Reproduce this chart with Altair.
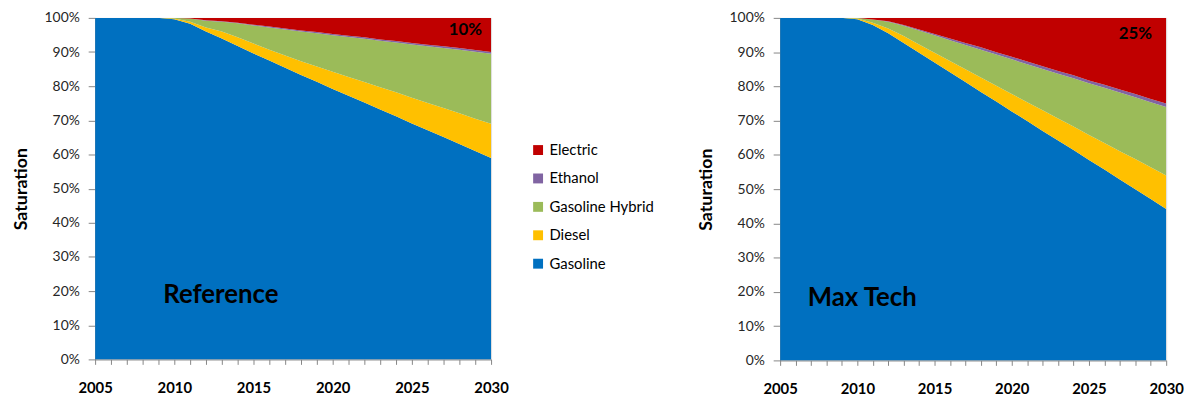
import altair as alt
import pandas as pd

years = list(range(2005, 2031))

fuels = ["Gasoline", "Diesel", "Gasoline Hybrid", "Ethanol", "Electric"]
legend_order = ["Electric", "Ethanol", "Gasoline Hybrid", "Diesel", "Gasoline"]
legend_colors = ["#C00000", "#8064A2", "#9BBB59", "#FFC000", "#0070C0"]

# Reference scenario (percent of stock)
ref_gasoline = [100, 100, 100, 100, 100, 99.6, 98.3, 96.0, 94.0, 91.8, 89.6, 87.5, 85.4,
                83.3, 81.3, 79.2, 77.2, 75.2, 73.2, 71.2, 69.1, 67.1, 65.1, 63.1, 61.0, 59.0]
ref_diesel = [0, 0, 0, 0, 0, 0.2, 0.6, 1.2, 2.0, 2.5, 2.9, 3.2, 3.6,
              4.0, 4.5, 5.0, 5.5, 6.0, 6.5, 7.0, 7.5, 8.0, 8.5, 9.0, 9.5, 10.0]
ref_hybrid = [0, 0, 0, 0, 0, 0.2, 0.9, 2.0, 2.9, 4.1, 5.3, 6.5, 7.6,
              8.7, 9.7, 10.7, 11.7, 12.7, 13.6, 14.6, 15.6, 16.6, 17.6, 18.6, 19.6, 20.5]
ref_ethanol = [0, 0, 0, 0, 0, 0, 0.05, 0.1, 0.15, 0.2, 0.2, 0.25, 0.3,
               0.3, 0.35, 0.35, 0.4, 0.4, 0.4, 0.45, 0.45, 0.45, 0.5, 0.5, 0.5, 0.5]
ref_electric = [0, 0, 0, 0, 0, 0, 0.15, 0.7, 0.95, 1.4, 2.0, 2.55, 3.1,
                3.7, 4.15, 4.75, 5.2, 5.7, 6.3, 6.75, 7.35, 7.85, 8.3, 8.8, 9.4, 10.0]

# Max Tech scenario (percent of stock)
max_gasoline = [100, 100, 100, 100, 100, 99.6, 97.9, 95.5, 92.7, 89.8, 87.0, 84.1, 81.3,
                78.4, 75.6, 72.7, 69.9, 67.0, 64.2, 61.4, 58.5, 55.7, 52.8, 50.0, 47.1, 44.2]
max_diesel = [0, 0, 0, 0, 0, 0.2, 0.7, 1.4, 2.0, 2.4, 2.8, 3.3, 3.7,
              4.2, 4.6, 5.1, 5.5, 6.0, 6.4, 6.9, 7.3, 7.8, 8.3, 8.8, 9.3, 9.8]
max_hybrid = [0, 0, 0, 0, 0, 0.2, 0.9, 2.0, 3.0, 4.1, 5.1, 6.1, 7.1,
              8.1, 9.1, 10.1, 11.1, 12.1, 13.1, 14.1, 15.1, 16.1, 17.1, 18.0, 19.0, 20.0]
max_ethanol = [0, 0, 0, 0, 0, 0, 0.05, 0.1, 0.2, 0.3, 0.4, 0.5, 0.6,
               0.7, 0.7, 0.75, 0.75, 0.8, 0.8, 0.85, 0.85, 0.9, 0.9, 0.95, 0.95, 1.0]
max_electric = [0, 0, 0, 0, 0, 0, 0.45, 1.0, 2.1, 3.4, 4.7, 6.0, 7.3,
                8.6, 10.0, 11.35, 12.75, 14.1, 15.5, 16.75, 18.25, 19.5, 20.9, 22.25, 23.65, 25.0]

x_label_years = [2005, 2010, 2015, 2020, 2025, 2030]
y_ticks = [0, 0.1, 0.2, 0.3, 0.4, 0.5, 0.6, 0.7, 0.8, 0.9, 1.0]

panel_names = ["Reference", "Max Tech"]
electric_2030_labels = ["10%", "25%"]

FONT = "Lato"


def long_frame(series):
    rows = []
    for rank, (fuel, vals) in enumerate(zip(fuels, series)):
        for yr, v in zip(years, vals):
            rows.append({"year": yr, "fuel": fuel, "share": v / 100.0, "rank": rank})
    return pd.DataFrame(rows)


label_expr = "indexof([" + ",".join(str(v) for v in x_label_years) + "], datum.value) >= 0 ? datum.value : ''"


def panel(series, name, pct, name_px, pct_px, width, height, show_legend):
    df = long_frame(series)
    if show_legend:
        legend = alt.Legend(
            title=None, orient="none", legendX=width + 40, legendY=126,
            symbolType="square", symbolSize=100, symbolStrokeWidth=0,
            labelFont=FONT, labelFontSize=15, labelColor="#000000",
            rowPadding=12.7, labelOffset=4,
        )
    else:
        legend = None
    area = alt.Chart(df).mark_area(clip=True, interpolate="linear").encode(
        x=alt.X(
            "year:Q",
            scale=alt.Scale(domain=[2005, 2030], nice=False, zero=False),
            axis=alt.Axis(
                values=years, labelExpr=label_expr, title=None, grid=False,
                labelFont=FONT, labelFontSize=15, labelFontWeight="bold", labelColor="#000000",
                labelPadding=16, tickSize=5, tickColor="#868686", domainColor="#868686",
                labelOverlap=False, labelFlush=False,
            ),
        ),
        y=alt.Y(
            "share:Q", stack="zero",
            scale=alt.Scale(domain=[0, 1], nice=False),
            axis=alt.Axis(
                values=y_ticks, format=".0%", title="Saturation", grid=False,
                labelFont=FONT, labelFontSize=14, labelColor="#262626",
                labelPadding=9, tickSize=7, tickColor="#868686", domainColor="#868686",
                titleFont=FONT, titleFontSize=18, titleFontWeight="bold", titleColor="#000000",
                titlePadding=13.5, labelOverlap=False,
            ),
        ),
        color=alt.Color("fuel:N", scale=alt.Scale(domain=legend_order, range=legend_colors), legend=legend),
        order=alt.Order("rank:Q", sort="ascending"),
    )
    name_text = alt.Chart(pd.DataFrame({"t": [name]})).mark_text(
        font=FONT, fontSize=26, fontWeight="bold", color="#000000", align="center", baseline="middle"
    ).encode(x=alt.value(name_px[0]), y=alt.value(name_px[1]), text="t:N")
    pct_text = alt.Chart(pd.DataFrame({"t": [pct]})).mark_text(
        font=FONT, fontSize=17, fontWeight="bold", color="#000000", align="center", baseline="middle"
    ).encode(x=alt.value(pct_px[0]), y=alt.value(pct_px[1]), text="t:N")
    return alt.layer(area, name_text, pct_text).properties(width=width, height=height)


left = panel([ref_gasoline, ref_diesel, ref_hybrid, ref_ethanol, ref_electric],
             panel_names[0], electric_2030_labels[0], (127, 280), (374, 12), 400, 345, True)
right = panel([max_gasoline, max_diesel, max_hybrid, max_ethanol, max_electric],
              panel_names[1], electric_2030_labels[1], (83, 283), (359, 16), 390, 346, False)

chart = alt.hconcat(left, right, spacing=42).resolve_scale(color="independent").resolve_legend(
    color="independent"
).properties(
    padding={"left": 4, "top": 0, "right": 0, "bottom": 0}
).configure_view(stroke=None).configure(background="#ffffff")

chart.save("out.html", embed_options={"renderer": "svg", "actions": False})
